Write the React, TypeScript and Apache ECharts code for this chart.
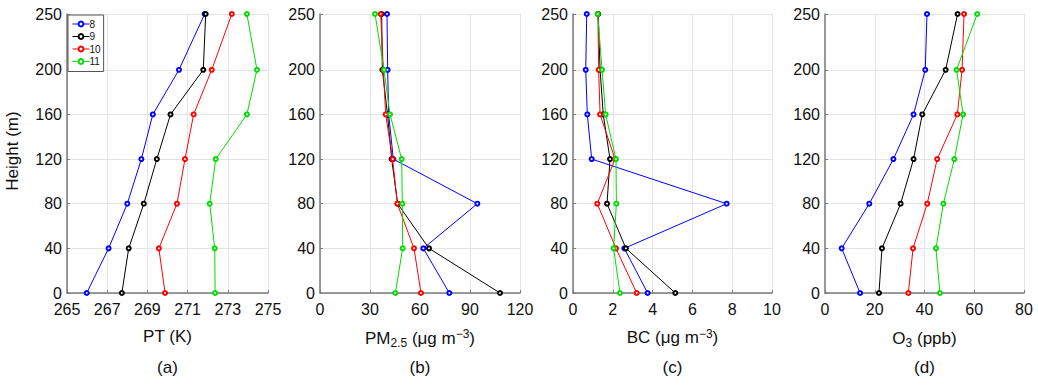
import React, { useEffect, useRef } from "react";
import * as echarts from "echarts";

const heights = [0, 40, 80, 120, 160, 200, 250];
const heightTicks = [0, 40, 80, 120, 160, 200, 250];
const seriesNames = ["8", "9", "10", "11"];
const colors = ["#0000ff", "#000000", "#ff0000", "#00dd00"];

const pt8 = [265.98, 267.07, 268.0, 268.7, 269.27, 270.57, 271.85];
const pt9 = [267.73, 268.07, 268.82, 269.47, 270.15, 271.78, 271.9];
const pt10 = [269.88, 269.57, 270.47, 270.87, 271.3, 272.2, 273.2];
const pt11 = [272.37, 272.35, 272.1, 272.4, 273.95, 274.45, 273.95];

const pm8 = [77.6, 62, 94.4, 44, 41.2, 40.6, 40.2];
const pm9 = [108, 65.4, 46.6, 43, 40.5, 37.4, 37];
const pm10 = [60.6, 56.4, 46.4, 43.6, 39.4, 38, 36.4];
const pm11 = [45.2, 49.6, 49.4, 49, 42, 38.4, 33];

const bc8 = [3.75, 2.58, 7.72, 0.94, 0.72, 0.64, 0.69];
const bc9 = [5.14, 2.66, 1.71, 1.86, 1.52, 1.36, 1.27];
const bc10 = [3.2, 2.16, 1.22, 2.11, 1.36, 1.29, 1.25];
const bc11 = [2.36, 2.04, 2.18, 2.16, 1.64, 1.46, 1.24];

const o38 = [14.1, 6.7, 17.8, 27.5, 35.6, 40.3, 41];
const o39 = [21.7, 22.9, 30.4, 35.6, 39.1, 48.5, 53.3];
const o310 = [33.5, 35.4, 41.1, 45.1, 53.2, 55.1, 55.9];
const o311 = [46.2, 44.6, 47.6, 52, 55.5, 52.9, 61.2];

const ptTicks = [265, 267, 269, 271, 273, 275];

const panels = [
  { key: "a", name: "PT (K)", min: 265, max: 275, ticks: ptTicks as number[] | undefined, interval: undefined as number | undefined, data: [pt8, pt9, pt10, pt11] },
  { key: "b", name: "PM{sub|2.5} (μg m{sup|−3})", min: 0, max: 120, ticks: undefined as number[] | undefined, interval: 30, data: [pm8, pm9, pm10, pm11] },
  { key: "c", name: "BC (μg m{sup|−3})", min: 0, max: 10, ticks: undefined as number[] | undefined, interval: 2, data: [bc8, bc9, bc10, bc11] },
  { key: "d", name: "O{sub|3} (ppb)", min: 0, max: 80, ticks: undefined as number[] | undefined, interval: 20, data: [o38, o39, o310, o311] },
];

const gridLefts = [67, 320, 573, 825];
const gridWidths = [201, 200, 199, 199];
const FONT = "'Liberation Sans', Arial, sans-serif";
const AXIS_COLOR = "#7a7a7a";

export default function App() {
  const ref = useRef<HTMLDivElement>(null);
  useEffect(() => {
    if (!ref.current) return;
    const chart = echarts.init(ref.current, null, { renderer: "svg" });
    const grid = panels.map((_, i) => ({
      left: gridLefts[i],
      top: 14,
      width: gridWidths[i],
      height: 279,
      containLabel: false,
    }));
    const tickBase = { show: true, inside: true, length: 3, lineStyle: { color: AXIS_COLOR, width: 1 } };
    const xAxis = panels.map((p, i) => ({
      type: "value",
      gridIndex: i,
      min: p.min,
      max: p.max,
      interval: p.interval,
      name: p.name,
      nameLocation: "middle",
      nameGap: 35,
      nameTextStyle: {
        fontSize: 17,
        color: "#111",
        fontFamily: FONT,
        rich: {
          sub: { fontSize: 12, verticalAlign: "bottom", padding: [9, 0, 0, 0], color: "#111", fontFamily: FONT },
          sup: { fontSize: 12, verticalAlign: "top", padding: [0, 0, 7, 0], color: "#111", fontFamily: FONT },
        },
      },
      axisLine: { show: true, onZero: false, lineStyle: { color: AXIS_COLOR, width: 1.5 } },
      axisTick: p.ticks ? { ...tickBase, customValues: p.ticks } : { ...tickBase },
      axisLabel: p.ticks
        ? { customValues: p.ticks, fontSize: 16, color: "#111", margin: 8, fontFamily: FONT }
        : { fontSize: 16, color: "#111", margin: 8, fontFamily: FONT },
      splitLine: { show: true, lineStyle: { color: "#e4e4e4", width: 1 } },
    }));
    const yAxis = panels.map((_, i) => ({
      type: "value",
      gridIndex: i,
      min: 0,
      max: 250,
      axisLine: { show: true, onZero: false, lineStyle: { color: AXIS_COLOR, width: 1.5 } },
      axisTick: { ...tickBase, customValues: heightTicks },
      axisLabel: { customValues: heightTicks, fontSize: 16, color: "#111", margin: 5, fontFamily: FONT },
      splitLine: { show: true, lineStyle: { color: "#e4e4e4", width: 1 } },
    }));
    const series: any[] = [];
    panels.forEach((p, i) => {
      p.data.forEach((vals, j) => {
        series.push({
          type: "line",
          name: seriesNames[j],
          xAxisIndex: i,
          yAxisIndex: i,
          data: vals.map((v, k) => [v, heights[k]]),
          symbol: "emptyCircle",
          symbolSize: 4,
          lineStyle: { color: colors[j], width: 1 },
          itemStyle: { color: colors[j], borderColor: colors[j], borderWidth: 1 },
          emphasis: { disabled: true },
        });
      });
    });
    const graphic: any[] = panels.map((p, i) => ({
      type: "text",
      x: gridLefts[i] + gridWidths[i] / 2,
      y: 367,
      style: { text: `(${p.key})`, fontSize: 17, fill: "#111", align: "center", verticalAlign: "middle", fontFamily: FONT },
    }));
    graphic.push({
      type: "text",
      x: 12,
      y: 151,
      rotation: Math.PI / 2,
      style: { text: "Height (m)", fontSize: 17, fill: "#111", align: "center", verticalAlign: "middle", fontFamily: FONT },
    });
    chart.setOption({
      animation: false,
      backgroundColor: "#ffffff",
      textStyle: { fontFamily: FONT },
      grid,
      xAxis,
      yAxis,
      series,
      graphic,
      legend: {
        data: seriesNames,
        orient: "vertical",
        left: 68,
        top: 15,
        itemWidth: 17,
        itemHeight: 6,
        itemGap: 2.5,
        padding: [4, 3, 5, 4],
        borderColor: "#555",
        borderWidth: 1,
        backgroundColor: "#fff",
        lineStyle: { width: 1 },
        textStyle: { fontSize: 10, color: "#111", fontFamily: FONT, padding: [0, 0, 0, -5] },
        selectedMode: false,
      },
    });
    return () => chart.dispose();
  }, []);
  return <div ref={ref} style={{ position: "absolute", left: 0, top: 0, width: 1038, height: 385 }} />;
}
